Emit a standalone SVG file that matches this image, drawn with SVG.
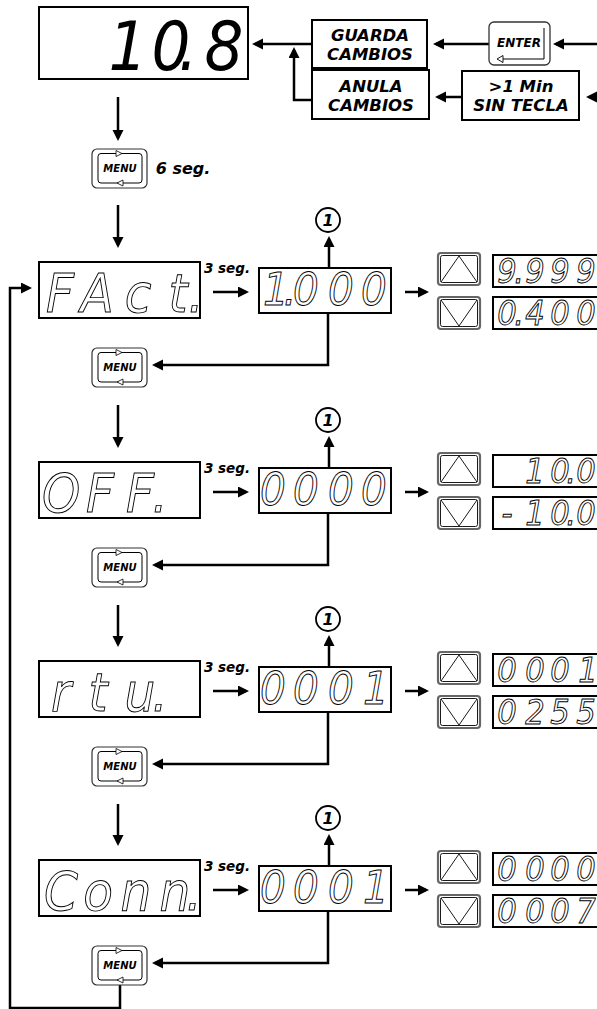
<svg xmlns="http://www.w3.org/2000/svg" xmlns:xlink="http://www.w3.org/1999/xlink" width="597" height="1009" viewBox="0 0 597 1009">
<style>
.box{fill:#fff;stroke:#000;stroke-width:2}
.seg{font-family:"DejaVu Sans Condensed","DejaVu Sans",sans-serif;font-style:oblique;fill:#fff;stroke:#000;stroke-width:0.9;text-anchor:middle}
.segb{font-family:"DejaVu Sans Condensed","DejaVu Sans",sans-serif;font-style:oblique;fill:#000;text-anchor:middle}
.lbl{font-family:"DejaVu Sans",Verdana,sans-serif;font-weight:bold;font-style:italic;fill:#000;text-anchor:middle}
.conn{fill:none;stroke:#000;stroke-width:2.5}
.btnO{fill:#fff;stroke:#666;stroke-width:2.2}
.btnI{fill:none;stroke:#000;stroke-width:0.9}
.num{fill:#fff;stroke:#000;stroke-width:1.8}
</style>
<defs>
<marker id="ah" markerUnits="userSpaceOnUse" markerWidth="12" markerHeight="12" refX="8" refY="5.5" orient="auto">
<path d="M0,0 L11,5.5 L0,11 Z" fill="#000"/>
</marker>
<g id="menu">
<rect x="0" y="0" width="55" height="39" rx="5" fill="#fff" stroke="#333" stroke-width="1.2"/>
<rect x="6" y="4.5" width="44" height="29.5" rx="3" fill="none" stroke="#000" stroke-width="1"/>
<polygon points="24,1.5 30,4.5 24,7.5" fill="#fff" stroke="#000" stroke-width="0.8"/>
<polygon points="31,31 25,34 31,37" fill="#fff" stroke="#000" stroke-width="0.8"/>
<text x="28" y="23" class="lbl" font-size="10">MENU</text>
</g>
<g id="upbtn">
<rect x="438" y="0" width="42" height="32" rx="3" class="btnO"/>
<rect x="440.5" y="2.5" width="37" height="27" rx="2" class="btnI"/>
<path d="M441,29 L459,3 L477,29" class="btnI"/>
</g>
<g id="dnbtn">
<rect x="438" y="0" width="42" height="32" rx="3" class="btnO"/>
<rect x="440.5" y="2.5" width="37" height="27" rx="2" class="btnI"/>
<path d="M441,3 L459,29 L477,3" class="btnI"/>
</g>
</defs>
<rect width="597" height="1009" fill="#fff"/>

<!-- connectors -->
<g id="connectors">
<path class="conn" marker-end="url(#ah)" d="M597,44 H556"/>
<path class="conn" marker-end="url(#ah)" d="M489,44 H436"/>
<path class="conn" marker-end="url(#ah)" d="M312,44 H255"/>
<path class="conn" marker-end="url(#ah)" d="M312,100 H294 V50"/>
<path class="conn" marker-end="url(#ah)" d="M597,97 H589"/>
<path class="conn" marker-end="url(#ah)" d="M462,97 H438"/>
<path class="conn" marker-end="url(#ah)" d="M118,97 V138"/>
<path class="conn" marker-end="url(#ah)" d="M118,205 V245"/>
<!-- row 0 T=262 -->
<path class="conn" marker-end="url(#ah)" d="M213,292 H246"/>
<path class="conn" marker-end="url(#ah)" d="M329,268 V239"/>
<path class="conn" marker-end="url(#ah)" d="M405,292 H426"/>
<path class="conn" marker-end="url(#ah)" d="M328,313 V365 H155"/>
<path class="conn" marker-end="url(#ah)" d="M118,405 V445"/>
<!-- row 1 T=462 -->
<path class="conn" marker-end="url(#ah)" d="M213,492 H246"/>
<path class="conn" marker-end="url(#ah)" d="M329,468 V439"/>
<path class="conn" marker-end="url(#ah)" d="M405,492 H426"/>
<path class="conn" marker-end="url(#ah)" d="M328,513 V565 H155"/>
<path class="conn" marker-end="url(#ah)" d="M118,605 V644"/>
<!-- row 2 T=661 -->
<path class="conn" marker-end="url(#ah)" d="M213,691 H246"/>
<path class="conn" marker-end="url(#ah)" d="M329,667 V638"/>
<path class="conn" marker-end="url(#ah)" d="M405,691 H426"/>
<path class="conn" marker-end="url(#ah)" d="M328,712 V764 H155"/>
<path class="conn" marker-end="url(#ah)" d="M118,804 V843"/>
<!-- row 3 T=860 -->
<path class="conn" marker-end="url(#ah)" d="M213,890 H246"/>
<path class="conn" marker-end="url(#ah)" d="M329,866 V837"/>
<path class="conn" marker-end="url(#ah)" d="M405,890 H426"/>
<path class="conn" marker-end="url(#ah)" d="M328,911 V963 H155"/>
<!-- loop back -->
<path class="conn" marker-end="url(#ah)" d="M120,985 V1008 H10 V288 H29"/>
</g>

<!-- top area -->
<g id="main-display">
<rect x="39" y="7" width="209" height="72" class="box"/>
<text class="segb" font-size="68" y="70" x="128 171 188 224">10.8</text>
</g>
<g id="guarda">
<rect x="312" y="20" width="115" height="48" class="box"/>
<text class="lbl" font-size="16.5" x="370" y="41">GUARDA</text>
<text class="lbl" font-size="16.5" x="370" y="60">CAMBIOS</text>
</g>
<g id="anula">
<rect x="312" y="70" width="117" height="49" class="box"/>
<text class="lbl" font-size="16.5" x="371" y="92">ANULA</text>
<text class="lbl" font-size="16.5" x="371" y="111">CAMBIOS</text>
</g>
<g id="enter">
<rect x="489" y="22" width="61" height="43" rx="5" fill="#fff" stroke="#333" stroke-width="1.3"/>
<path d="M544,28 V59 H503" fill="none" stroke="#000" stroke-width="1"/>
<polygon points="503,55.5 497,59 503,62.5" fill="#fff" stroke="#000" stroke-width="0.9"/>
<text class="lbl" font-size="12" x="519" y="47">ENTER</text>
</g>
<g id="sin-tecla">
<rect x="462" y="71" width="117" height="49" class="box"/>
<text class="lbl" font-size="16.5" x="521" y="92">&gt;1 Min</text>
<text class="lbl" font-size="16.5" x="521" y="111">SIN TECLA</text>
</g>
<g id="menu-6seg">
<use xlink:href="#menu" x="92" y="149"/>
<text class="lbl" font-size="16" x="183" y="174">6 seg.</text>
</g>

<!-- row 0 FAct -->
<g id="fact" transform="translate(0,262)">
<rect x="39" y="0" width="161" height="56" class="box"/>
<text class="seg" font-size="54" y="50" x="60 97 138 178 196">FAct.</text>
<text class="lbl" font-size="13.5" x="227" y="11">3 seg.</text>
</g>
<g id="fact-value" transform="translate(0,262)">
<rect x="259" y="6" width="132" height="45" class="box"/>
<text class="seg" font-size="45" y="43" x="276 290 306 341 374">1.000</text>
<circle cx="328" cy="-42" r="12" class="num"/>
<text class="lbl" font-size="16" x="328" y="-36">1</text>
</g>
<g id="fact-range" transform="translate(0,262)">
<use xlink:href="#upbtn" y="-9"/>
<use xlink:href="#dnbtn" y="35"/>
<rect x="493" y="-7" width="110" height="32" class="box"/>
<text class="seg" font-size="34" y="21" x="507 519 535 560 586">9.999</text>
<rect x="493" y="35" width="110" height="32" class="box"/>
<text class="seg" font-size="34" y="63" x="507 519 535 560 586">0.400</text>
</g>
<g id="menu-1"><use xlink:href="#menu" x="92" y="348"/></g>

<!-- row 1 OFF -->
<g id="off" transform="translate(0,462)">
<rect x="39" y="0" width="161" height="56" class="box"/>
<text class="seg" font-size="54" y="50" x="61 100 140 160">OFF.</text>
<text class="lbl" font-size="13.5" x="227" y="11">3 seg.</text>
</g>
<g id="off-value" transform="translate(0,462)">
<rect x="259" y="6" width="132" height="45" class="box"/>
<text class="seg" font-size="45" y="43" x="273 306 341 374">0000</text>
<circle cx="328" cy="-42" r="12" class="num"/>
<text class="lbl" font-size="16" x="328" y="-36">1</text>
</g>
<g id="off-range" transform="translate(0,462)">
<use xlink:href="#upbtn" y="-9"/>
<use xlink:href="#dnbtn" y="35"/>
<rect x="493" y="-7" width="110" height="32" class="box"/>
<text class="seg" font-size="34" y="21" x="535 560 571 586">10.0</text>
<rect x="493" y="35" width="110" height="32" class="box"/>
<text class="seg" font-size="34" y="63" x="507 535 560 571 586">-10.0</text>
</g>
<g id="menu-2"><use xlink:href="#menu" x="92" y="548"/></g>

<!-- row 2 rtu -->
<g id="rtu" transform="translate(0,661)">
<rect x="39" y="0" width="161" height="56" class="box"/>
<text class="seg" font-size="54" y="50" x="61 98 140 160">rtu.</text>
<text class="lbl" font-size="13.5" x="227" y="11">3 seg.</text>
</g>
<g id="rtu-value" transform="translate(0,661)">
<rect x="259" y="6" width="132" height="45" class="box"/>
<text class="seg" font-size="45" y="43" x="273 306 341 376">0001</text>
<circle cx="328" cy="-42" r="12" class="num"/>
<text class="lbl" font-size="16" x="328" y="-36">1</text>
</g>
<g id="rtu-range" transform="translate(0,661)">
<use xlink:href="#upbtn" y="-9"/>
<use xlink:href="#dnbtn" y="35"/>
<rect x="493" y="-7" width="110" height="32" class="box"/>
<text class="seg" font-size="34" y="21" x="507 535 560 588">0001</text>
<rect x="493" y="35" width="110" height="32" class="box"/>
<text class="seg" font-size="34" y="63" x="507 535 560 586">0255</text>
</g>
<g id="menu-3"><use xlink:href="#menu" x="92" y="747"/></g>

<!-- row 3 Conn -->
<g id="conn" transform="translate(0,860)">
<rect x="39" y="0" width="161" height="56" class="box"/>
<text class="seg" font-size="54" y="50" x="61 98 136 175 194">Conn.</text>
<text class="lbl" font-size="13.5" x="227" y="11">3 seg.</text>
</g>
<g id="conn-value" transform="translate(0,860)">
<rect x="259" y="6" width="132" height="45" class="box"/>
<text class="seg" font-size="45" y="43" x="273 306 341 376">0001</text>
<circle cx="328" cy="-42" r="12" class="num"/>
<text class="lbl" font-size="16" x="328" y="-36">1</text>
</g>
<g id="conn-range" transform="translate(0,860)">
<use xlink:href="#upbtn" y="-9"/>
<use xlink:href="#dnbtn" y="35"/>
<rect x="493" y="-7" width="110" height="32" class="box"/>
<text class="seg" font-size="34" y="21" x="507 535 560 586">0000</text>
<rect x="493" y="35" width="110" height="32" class="box"/>
<text class="seg" font-size="34" y="63" x="507 535 560 586">0007</text>
</g>
<g id="menu-4"><use xlink:href="#menu" x="92" y="946"/></g>
</svg>
